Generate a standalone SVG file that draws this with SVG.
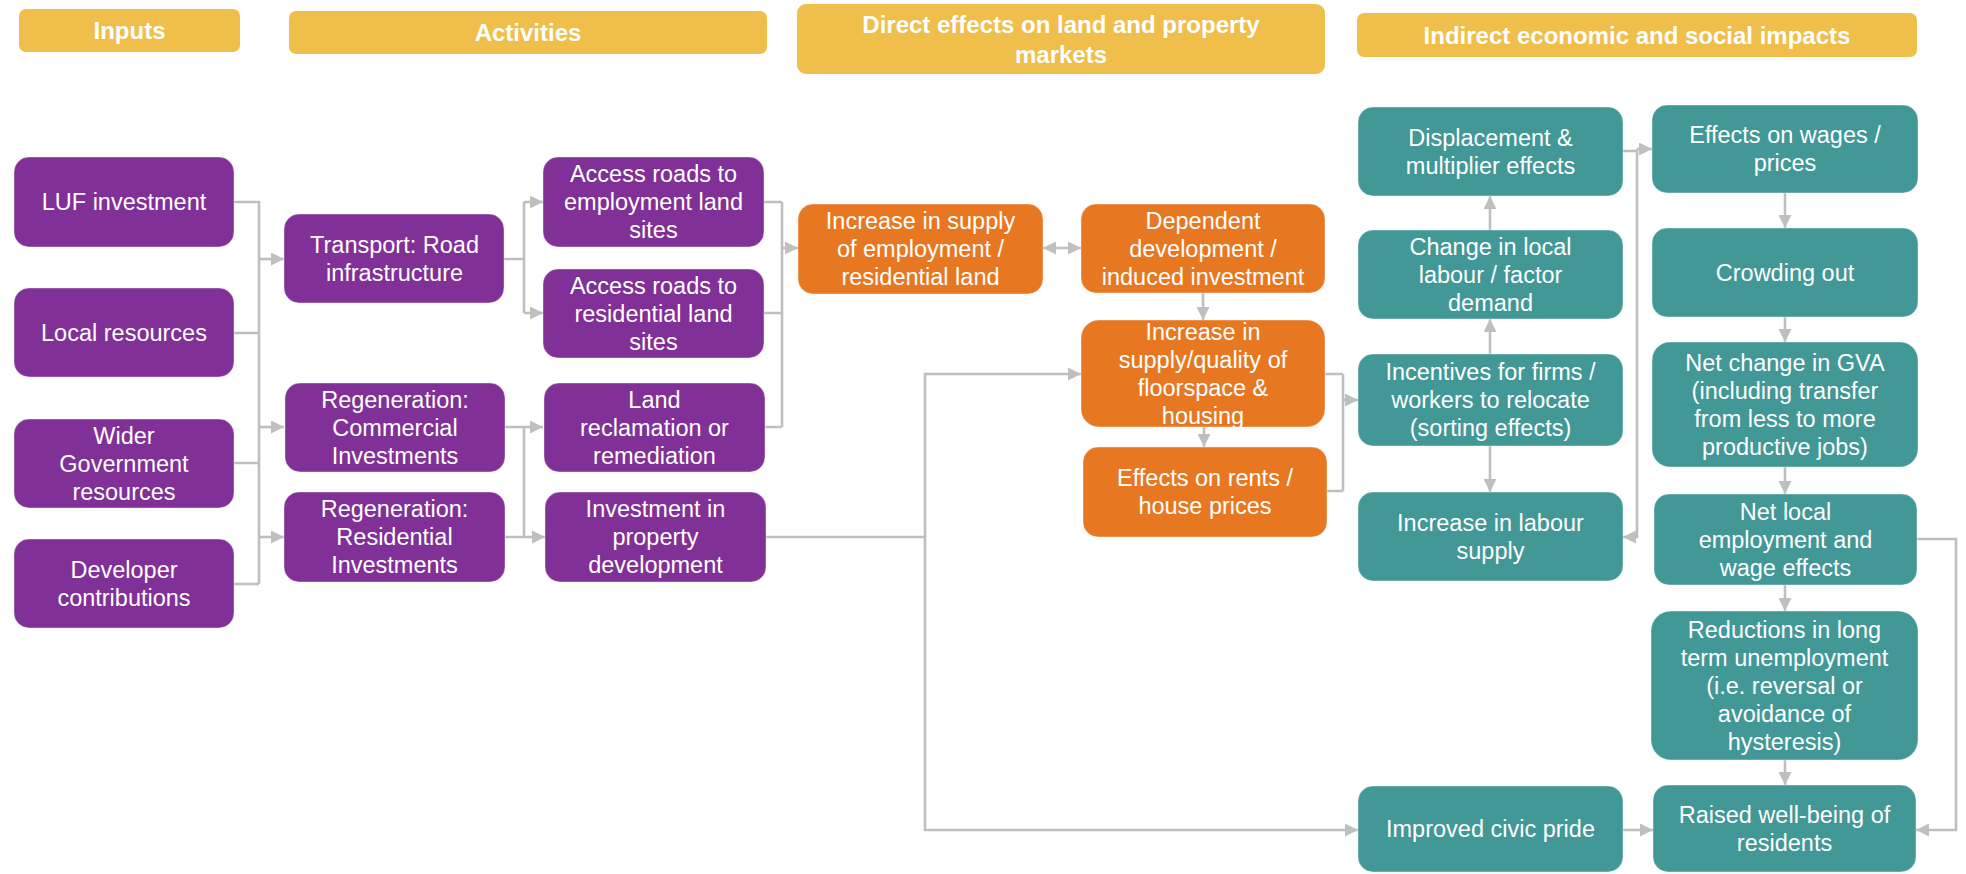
<svg xmlns="http://www.w3.org/2000/svg" width="1966" height="874" viewBox="0 0 1966 874">
<style>
  .hdr { fill: #F0BE4A; }
  .hdrt { font-family: "Liberation Sans", Arial, sans-serif; font-size: 24px; font-weight: bold; fill: #fff; text-anchor: middle; }
  .p { fill: #803096; stroke: #fff; stroke-opacity: 0.4; stroke-width: 1; }
  .o { fill: #E87722; stroke: #fff; stroke-opacity: 0.4; stroke-width: 1; }
  .t { fill: #419896; stroke: #fff; stroke-opacity: 0.4; stroke-width: 1; }
  .lbl { font-family: "Liberation Sans", Arial, sans-serif; font-size: 23.5px; fill: #fff; text-anchor: middle; }
  .c { fill: none; stroke: #BFBFBF; stroke-width: 2.6; }
  .a { marker-end: url(#arr); }
</style>
<defs>
  <marker id="arr" viewBox="0 0 10 10" refX="10" refY="5" markerWidth="13" markerHeight="13" markerUnits="userSpaceOnUse" orient="auto-start-reverse">
    <path d="M0,0 L10,5 L0,10 z" fill="#BFBFBF"/>
  </marker>
</defs>
<rect width="1966" height="874" fill="#fff"/>

<g id="headers">
  <g id="h-inputs"><rect class="hdr" x="19" y="9" width="221" height="43" rx="7"/><text class="hdrt" x="129.5" y="39">Inputs</text></g>
  <g id="h-activities"><rect class="hdr" x="289" y="11" width="478" height="43" rx="7"/><text class="hdrt" x="528" y="41">Activities</text></g>
  <g id="h-direct"><rect class="hdr" x="797" y="4" width="528" height="70" rx="9"/><text class="hdrt" x="1061" y="33">Direct effects on land and property</text><text class="hdrt" x="1061" y="63">markets</text></g>
  <g id="h-indirect"><rect class="hdr" x="1357" y="13" width="560" height="44" rx="7"/><text class="hdrt" x="1637" y="43.5">Indirect economic and social impacts</text></g>
</g>

<g id="connectors">
  <path class="c" d="M234,202 H259 V584 M234,333 H259 M234,463 H259 M234,584 H259"/>
  <path class="c a" d="M259,259 H284"/>
  <path class="c a" d="M259,427 H284"/>
  <path class="c a" d="M259,537 H284"/>
  <path class="c" d="M504,259 H524 M524,202 V313"/>
  <path class="c a" d="M524,202 H543"/>
  <path class="c a" d="M524,313 H543"/>
  <path class="c" d="M505,427 H524 M505,537 H524 M524,427 V537"/>
  <path class="c a" d="M524,427 H543"/>
  <path class="c a" d="M524,537 H545"/>
  <path class="c" d="M764,202 H782 M764,313 H782 M764,427 H782 M782,202 V427"/>
  <path class="c a" d="M782,248 H798"/>
  <path class="c a" style="marker-start:url(#arr)" d="M1043,248 H1081"/>
  <path class="c a" d="M1203,293 V320"/>
  <path class="c a" d="M1204,427 V447"/>
  <path class="c a" d="M766,537 H925 V830 H1358"/>
  <path class="c a" d="M925,537 V374 H1081"/>
  <path class="c" d="M1325,374 H1343 M1327,491 H1343 M1343,374 V491"/>
  <path class="c a" d="M1343,400 H1358"/>
  <path class="c a" d="M1490,354 V319"/>
  <path class="c a" d="M1490,230 V196"/>
  <path class="c a" d="M1490,446 V492"/>
  <path class="c" d="M1623,151 H1637"/>
  <path class="c a" d="M1637,149 H1652"/>
  <path class="c a" d="M1637,149 V537 H1623"/>
  <path class="c a" d="M1785,193 V228"/>
  <path class="c a" d="M1785,317 V342"/>
  <path class="c a" d="M1785,467 V494"/>
  <path class="c a" d="M1785,585 V611"/>
  <path class="c a" d="M1785,760 V785"/>
  <path class="c a" d="M1917,539 H1956 V830 H1916"/>
  <path class="c a" d="M1623,830 H1653"/>
</g>

<g id="n-luf"><rect class="p" x="14" y="157" width="220" height="90" rx="15"/><text class="lbl" x="124" y="210">LUF investment</text></g>
<g id="n-local"><rect class="p" x="14" y="288" width="220" height="89" rx="15"/><text class="lbl" x="124" y="340.5">Local resources</text></g>
<g id="n-wider"><rect class="p" x="14" y="419" width="220" height="89" rx="15"/><text class="lbl" x="124" y="443.5">Wider</text><text class="lbl" x="124" y="471.5">Government</text><text class="lbl" x="124" y="499.5">resources</text></g>
<g id="n-developer"><rect class="p" x="14" y="539" width="220" height="89" rx="15"/><text class="lbl" x="124" y="577.5">Developer</text><text class="lbl" x="124" y="605.5">contributions</text></g>

<g id="n-transport"><rect class="p" x="284" y="214" width="220" height="89" rx="15"/><text class="lbl" x="394.5" y="252.5">Transport: Road</text><text class="lbl" x="394.5" y="280.5">infrastructure</text></g>
<g id="n-regcom"><rect class="p" x="285" y="383" width="220" height="89" rx="15"/><text class="lbl" x="395" y="407.5">Regeneration:</text><text class="lbl" x="395" y="435.5">Commercial</text><text class="lbl" x="395" y="463.5">Investments</text></g>
<g id="n-regres"><rect class="p" x="284" y="492" width="221" height="90" rx="15"/><text class="lbl" x="394.5" y="517">Regeneration:</text><text class="lbl" x="394.5" y="545">Residential</text><text class="lbl" x="394.5" y="573">Investments</text></g>

<g id="n-accemp"><rect class="p" x="543" y="157" width="221" height="90" rx="15"/><text class="lbl" x="653.5" y="182">Access roads to</text><text class="lbl" x="653.5" y="210">employment land</text><text class="lbl" x="653.5" y="238">sites</text></g>
<g id="n-accres"><rect class="p" x="543" y="269" width="221" height="89" rx="15"/><text class="lbl" x="653.5" y="293.5">Access roads to</text><text class="lbl" x="653.5" y="321.5">residential land</text><text class="lbl" x="653.5" y="349.5">sites</text></g>
<g id="n-land"><rect class="p" x="544" y="383" width="221" height="89" rx="15"/><text class="lbl" x="654.5" y="407.5">Land</text><text class="lbl" x="654.5" y="435.5">reclamation or</text><text class="lbl" x="654.5" y="463.5">remediation</text></g>
<g id="n-invest"><rect class="p" x="545" y="492" width="221" height="90" rx="15"/><text class="lbl" x="655.5" y="517">Investment in</text><text class="lbl" x="655.5" y="545">property</text><text class="lbl" x="655.5" y="573">development</text></g>

<g id="n-supplyland"><rect class="o" x="798" y="204" width="245" height="90" rx="15"/><text class="lbl" x="920.5" y="229">Increase in supply</text><text class="lbl" x="920.5" y="257">of employment /</text><text class="lbl" x="920.5" y="285">residential land</text></g>
<g id="n-dependent"><rect class="o" x="1081" y="204" width="244" height="89" rx="15"/><text class="lbl" x="1203" y="228.5">Dependent</text><text class="lbl" x="1203" y="256.5">development /</text><text class="lbl" x="1203" y="284.5">induced investment</text></g>
<g id="n-floorspace"><rect class="o" x="1081" y="320" width="244" height="107" rx="18"/><text class="lbl" x="1203" y="339.5">Increase in</text><text class="lbl" x="1203" y="367.5">supply/quality of</text><text class="lbl" x="1203" y="395.5">floorspace &amp;</text><text class="lbl" x="1203" y="423.5">housing</text></g>
<g id="n-rents"><rect class="o" x="1083" y="447" width="244" height="90" rx="15"/><text class="lbl" x="1205" y="486">Effects on rents /</text><text class="lbl" x="1205" y="514">house prices</text></g>

<g id="n-displacement"><rect class="t" x="1358" y="107" width="265" height="89" rx="15"/><text class="lbl" x="1490.5" y="145.5">Displacement &amp;</text><text class="lbl" x="1490.5" y="173.5">multiplier effects</text></g>
<g id="n-labourdemand"><rect class="t" x="1358" y="230" width="265" height="89" rx="15"/><text class="lbl" x="1490.5" y="254.5">Change in local</text><text class="lbl" x="1490.5" y="282.5">labour / factor</text><text class="lbl" x="1490.5" y="310.5">demand</text></g>
<g id="n-incentives"><rect class="t" x="1358" y="354" width="265" height="92" rx="15"/><text class="lbl" x="1490.5" y="380">Incentives for firms /</text><text class="lbl" x="1490.5" y="408">workers to relocate</text><text class="lbl" x="1490.5" y="436">(sorting effects)</text></g>
<g id="n-laboursupply"><rect class="t" x="1358" y="492" width="265" height="89" rx="15"/><text class="lbl" x="1490.5" y="530.5">Increase in labour</text><text class="lbl" x="1490.5" y="558.5">supply</text></g>
<g id="n-civic"><rect class="t" x="1358" y="786" width="265" height="86" rx="15"/><text class="lbl" x="1490.5" y="837">Improved civic pride</text></g>

<g id="n-wages"><rect class="t" x="1652" y="105" width="266" height="88" rx="15"/><text class="lbl" x="1785" y="143">Effects on wages /</text><text class="lbl" x="1785" y="171">prices</text></g>
<g id="n-crowding"><rect class="t" x="1652" y="228" width="266" height="89" rx="15"/><text class="lbl" x="1785" y="280.5">Crowding out</text></g>
<g id="n-gva"><rect class="t" x="1652" y="342" width="266" height="125" rx="18"/><text class="lbl" x="1785" y="370.5">Net change in GVA</text><text class="lbl" x="1785" y="398.5">(including transfer</text><text class="lbl" x="1785" y="426.5">from less to more</text><text class="lbl" x="1785" y="454.5">productive jobs)</text></g>
<g id="n-netlocal"><rect class="t" x="1654" y="494" width="263" height="91" rx="15"/><text class="lbl" x="1785.5" y="519.5">Net local</text><text class="lbl" x="1785.5" y="547.5">employment and</text><text class="lbl" x="1785.5" y="575.5">wage effects</text></g>
<g id="n-reductions"><rect class="t" x="1651" y="611" width="267" height="149" rx="20"/><text class="lbl" x="1784.5" y="637.5">Reductions in long</text><text class="lbl" x="1784.5" y="665.5">term unemployment</text><text class="lbl" x="1784.5" y="693.5">(i.e. reversal or</text><text class="lbl" x="1784.5" y="721.5">avoidance of</text><text class="lbl" x="1784.5" y="749.5">hysteresis)</text></g>
<g id="n-wellbeing"><rect class="t" x="1653" y="785" width="263" height="87" rx="15"/><text class="lbl" x="1784.5" y="822.5">Raised well-being of</text><text class="lbl" x="1784.5" y="850.5">residents</text></g>
</svg>
